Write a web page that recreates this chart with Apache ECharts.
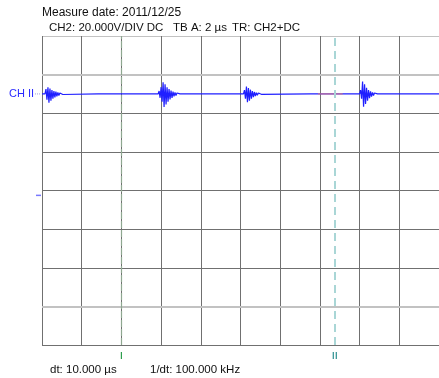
<!DOCTYPE html>
<html>
<head>
<meta charset="utf-8">
<script src="https://cdn.jsdelivr.net/npm/echarts@6/dist/echarts.min.js"></script>
<style>
  html, body { margin: 0; padding: 0; background: #fff; }
  #scope { width: 439px; height: 378px; }
</style>
</head>
<body>
<div id="scope"></div>
<script>
// Oscilloscope capture: CH2, 20 V/div, timebase 2 µs/div
const timeTicks = [0, 2, 4, 6, 8, 10, 12, 14, 16, 18, 20];      // µs, 10 divisions
const voltTicks = [-80, -60, -40, -20, 0, 20, 40, 60, 80];      // V, 8 divisions
const baselineVolt = 50;                                        // CH II offset level
const sampleStep = 0.05;                                        // µs between burst samples

// Ringing bursts: start time (µs) and deviation from baseline (V) per sample
const burstStarts = [0.15, 5.85, 10.15, 16.0];
const burst1 = [0, 2.5, -3, 3.4, -4.6, 2.8, -3.5, 2, -2.5, 1.5, -1.8, 1.2, -1.2, 0.8, -0.8, 0.5, -0.5, 0.4, -0.3, 0.2, 0];
const burst2 = [0, 1.5, -2, 3.5, -4, 6, -6.7, 5, -5.5, 3.5, -4, 2.5, -2.8, 1.8, -2, 1.2, -1.3, 0.8, -0.8, 0.5, -0.4, 0.2, 0];
const burst3 = [0, 2, -2.5, 3.8, -4.3, 3, -3.5, 2.2, -2.5, 1.5, -1.6, 1, -1.1, 0.7, -0.7, 0.5, -0.4, 0.3, -0.2, 0];
const burst4 = [0, 2, -2.5, 6.4, -6.6, 5, -5.2, 3.2, -3.5, 2, -2.2, 1.3, -1.4, 0.8, -0.8, 0.5, -0.4, 0.2, 0];
const bursts = [burst1, burst2, burst3, burst4];

// Isolated noise spikes: time (µs) and deviation (V)
const blipTimes = [2.85, 3.43, 3.84, 3.97, 4.45, 4.6, 5.1, 5.35, 7.8, 8.1, 8.35, 13.55, 13.93, 14.15, 15.25, 15.4, 15.55, 17.7];
const blipVolts = [-0.8, -0.8, -0.8, -0.8, -1, -0.8, -0.8, -1, -0.8, -0.8, -0.8, -0.8, -1, -0.8, -0.8, -1, -0.8, -0.8];

// Highlighted measurement segment on the trace
const measureSpan = [13.9, 15.15];

// Cursors
const cursorTimes = [4.0, 14.75];
const cursorNames = ['I', 'II'];
const triggerVolt = -2;

// Build the trace from bursts and spikes in time order
const events = [];
bursts.forEach((b, i) => {
  b.forEach((dv, k) => events.push([burstStarts[i] + k * sampleStep, baselineVolt + dv]));
});
blipTimes.forEach((t, i) => {
  events.push([t - sampleStep / 2, baselineVolt]);
  events.push([t, baselineVolt + blipVolts[i]]);
  events.push([t + sampleStep / 2, baselineVolt]);
});
events.sort((a, b) => a[0] - b[0]);
const trace = [[timeTicks[0], baselineVolt], ...events, [timeTicks[timeTicks.length - 1], baselineVolt]];

const FONT = '"Liberation Sans", Arial, Helvetica, sans-serif';
const chart = echarts.init(document.getElementById('scope'), null, { renderer: 'canvas' });

const dark = '#707070';
const light = '#c2c2c2';

chart.setOption({
  animation: false,
  backgroundColor: '#ffffff',
  grid: { left: 42, top: 36, width: 400, height: 309, containLabel: false },
  xAxis: {
    type: 'value', min: timeTicks[0], max: timeTicks[timeTicks.length - 1], interval: 2,
    axisLine: { show: false }, axisTick: { show: false }, axisLabel: { show: false },
    splitLine: { show: true, lineStyle: { color: dark, width: 1 } }
  },
  yAxis: {
    type: 'value', min: voltTicks[0], max: voltTicks[voltTicks.length - 1], interval: 20,
    axisLine: { show: false }, axisTick: { show: false }, axisLabel: { show: false },
    splitLine: { show: true, lineStyle: { color: [dark, light, dark, dark, dark, dark, dark, light, light], width: 1 } }
  },
  series: [
    {
      type: 'line', data: trace, symbol: 'none', silent: true,
      lineStyle: { color: '#1f1fff', width: 1.2 },
      markLine: {
        silent: true, symbol: 'none', animation: false,
        label: { show: false },
        data: [
          { yAxis: 60, lineStyle: { color: light, width: 2, type: 'solid' } },
          { yAxis: -60, lineStyle: { color: light, width: 2, type: 'solid' } },
          { xAxis: cursorTimes[0], lineStyle: { color: '#8fa891', width: 1.2, type: [7, 2] } },
          { xAxis: cursorTimes[1], lineStyle: { color: '#a9d6d6', width: 2, type: [8, 5] } }
        ]
      }
    },
    {
      type: 'line', data: [[measureSpan[0], baselineVolt], [measureSpan[1], baselineVolt]],
      symbol: 'none', silent: true, z: 3,
      lineStyle: { color: '#e07a7a', width: 1 }
    }
  ]
});

// Annotations placed from the chart's own scales
const px = (t, v) => chart.convertToPixel({ gridIndex: 0 }, [t, v]);
const base = px(timeTicks[0], baselineVolt);
const trig = px(timeTicks[0], triggerVolt);
const bottom = px(timeTicks[0], voltTicks[0]);
const c1 = px(cursorTimes[0], 0);
const c2 = px(cursorTimes[1], 0);

chart.setOption({
  graphic: [
    { type: 'text', left: 42, top: 7, style: { text: 'Measure date: 2011/12/25', font: '12px ' + FONT, fill: '#111' } },
    { type: 'text', left: 49, top: 22, style: { text: 'CH2: 20.000V/DIV DC', font: '11.5px ' + FONT, fill: '#111' } },
    { type: 'text', left: 173, top: 22, style: { text: 'TB A: 2 µs', font: '11.5px ' + FONT, fill: '#111' } },
    { type: 'text', left: 232, top: 22, style: { text: 'TR: CH2+DC', font: '11.5px ' + FONT, fill: '#111' } },
    { type: 'text', x: 9, y: base[1], style: { text: 'CH II', font: '11px ' + FONT, fill: '#2a2aff', verticalAlign: 'middle' } },
    { type: 'line', shape: { x1: 35, y1: base[1], x2: 41, y2: base[1] }, style: { stroke: '#a0a0e0', lineWidth: 1, lineDash: [1, 1] } },
    { type: 'line', shape: { x1: 36, y1: trig[1] + 1, x2: 41, y2: trig[1] + 1 }, style: { stroke: '#7878ff', lineWidth: 1.5 } },
    { type: 'line', shape: { x1: c1[0], y1: bottom[1] + 7, x2: c1[0], y2: bottom[1] + 14 }, style: { stroke: '#2e9e4e', lineWidth: 1.2 } },
    { type: 'line', shape: { x1: c2[0] - 1.5, y1: bottom[1] + 7, x2: c2[0] - 1.5, y2: bottom[1] + 14 }, style: { stroke: '#2a9090', lineWidth: 1.2 } },
    { type: 'line', shape: { x1: c2[0] + 1.5, y1: bottom[1] + 7, x2: c2[0] + 1.5, y2: bottom[1] + 14 }, style: { stroke: '#2a9090', lineWidth: 1.2 } },
    { type: 'text', left: 50, top: 364, style: { text: 'dt: 10.000 µs', font: '11.5px ' + FONT, fill: '#111' } },
    { type: 'text', left: 150, top: 364, style: { text: '1/dt: 100.000 kHz', font: '11.5px ' + FONT, fill: '#111' } }
  ]
});
</script>
</body>
</html>
